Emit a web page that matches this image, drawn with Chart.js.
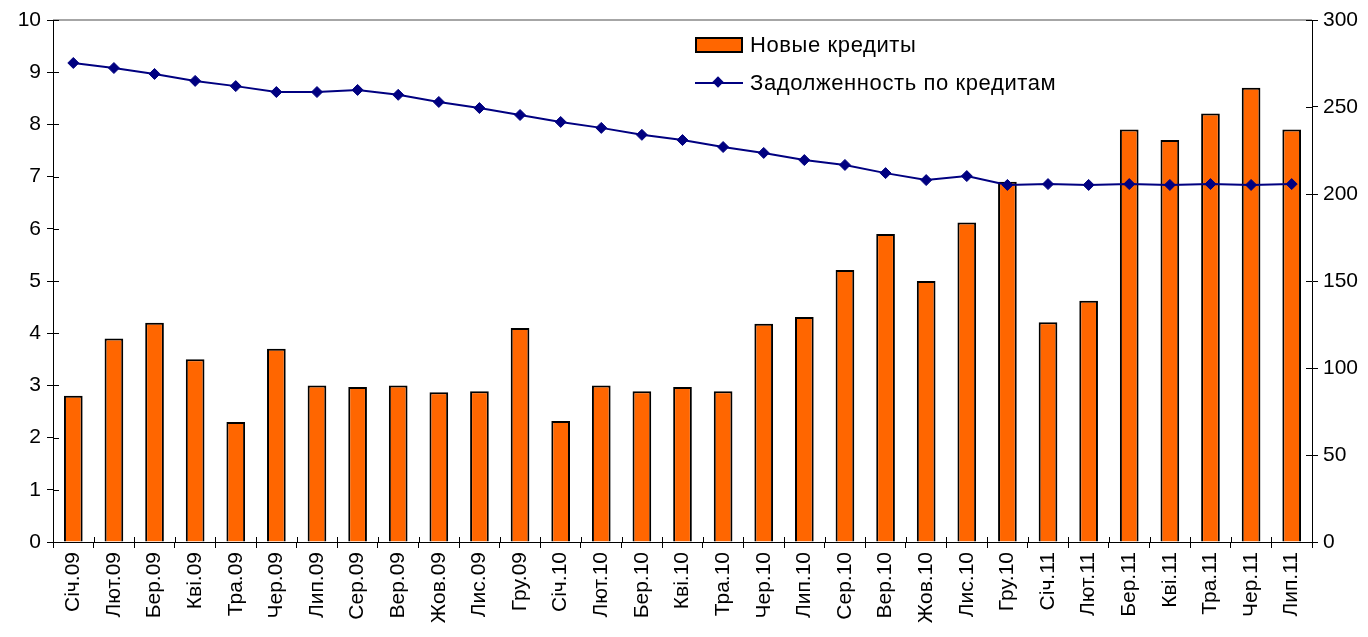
<!DOCTYPE html>
<html>
<head>
  <meta charset="utf-8">
  <title>Новые кредиты и задолженность</title>
  <script src="https://cdn.jsdelivr.net/npm/chart.js"></script>
  <style>
    body { margin: 0; background: #fff; }
    #wrap { position: relative; width: 1368px; height: 637px; }
    #legend { position: absolute; left: 695px; top: 26px; font-family: 'Liberation Sans', Arial, sans-serif; font-size: 22px; letter-spacing: 0.6px; color: #000; }
    .row { display: flex; align-items: center; height: 38px; }
    .sym { width: 48px; height: 16px; margin-right: 7px; position: relative; box-sizing: border-box; }
  </style>
</head>
<body>
<div id="wrap">
  <canvas id="c"></canvas>
  <div id="legend"></div>
</div>
<script>
const months = ['Січ.09', 'Лют.09', 'Бер.09', 'Кві.09', 'Тра.09', 'Чер.09', 'Лип.09', 'Сер.09', 'Вер.09', 'Жов.09', 'Лис.09', 'Гру.09',
  'Січ.10', 'Лют.10', 'Бер.10', 'Кві.10', 'Тра.10', 'Чер.10', 'Лип.10', 'Сер.10', 'Вер.10', 'Жов.10', 'Лис.10', 'Гру.10',
  'Січ.11', 'Лют.11', 'Бер.11', 'Кві.11', 'Тра.11', 'Чер.11', 'Лип.11'];

// новые кредиты (левая ось)
const newLoans = [2.8, 3.9, 4.2, 3.5, 2.3, 3.7, 3.0, 2.97, 3.0, 2.87, 2.89, 4.1,
  2.32, 3.0, 2.89, 2.97, 2.89, 4.18, 4.31, 5.21, 5.9, 5.0, 6.12, 6.9,
  4.21, 4.62, 7.9, 7.7, 8.21, 8.7, 7.9];

// задолженность (правая ось)
const debt = [275.3, 272.4, 269, 265, 262, 258.6, 258.6, 259.8, 257, 252.9, 249.4, 245.4,
  241.4, 238, 234, 231, 227, 223.6, 219.5, 216.7, 212, 208, 210.3, 205.2,
  205.7, 205.2, 205.7, 205.2, 205.7, 205.2, 205.7];

const leftTicks = { min: 0, max: 10, step: 1 };
const rightTicks = { min: 0, max: 300, step: 50 };

const FONT = { family: "'Liberation Sans', Arial, sans-serif", size: 21 };
const BAR_COLOR = '#FF6600';
const LINE_COLOR = '#000080';

// засечки, пересекающие оси, и верхняя рамка
const crossTicks = {
  id: 'crossTicks',
  afterDraw(chart) {
    const ctx = chart.ctx;
    const a = chart.chartArea;
    const x = chart.scales.x, y = chart.scales.y, y1 = chart.scales.y1;
    ctx.save();
    ctx.strokeStyle = '#888';
    ctx.lineWidth = 1.5;
    ctx.beginPath();
    ctx.moveTo(a.left, a.top);
    ctx.lineTo(a.right, a.top);
    ctx.stroke();
    ctx.strokeStyle = '#000';
    ctx.lineWidth = 1;
    ctx.beginPath();
    const n = months.length;
    for (let i = 0; i <= n; i++) {
      let px;
      if (i === 0) px = a.left;
      else if (i === n) px = a.right;
      else px = (x.getPixelForValue(i - 1) + x.getPixelForValue(i)) / 2;
      px = Math.round(px) + 0.5;
      ctx.moveTo(px, a.bottom);
      ctx.lineTo(px, a.bottom - 5);
    }
    y.ticks.forEach(t => {
      const py = Math.round(y.getPixelForValue(t.value)) + 0.5;
      ctx.moveTo(a.left, py);
      ctx.lineTo(a.left + 6, py);
    });
    y1.ticks.forEach(t => {
      const py = Math.round(y1.getPixelForValue(t.value)) + 0.5;
      ctx.moveTo(a.right, py);
      ctx.lineTo(a.right - 6, py);
    });
    ctx.stroke();
    ctx.restore();
  }
};

const axisGrid = { drawOnChartArea: false, drawTicks: true, tickLength: 6, color: '#000' };

const chart = new Chart(document.getElementById('c'), {
  data: {
    labels: months,
    datasets: [
      {
        type: 'bar',
        label: 'Новые кредиты',
        data: newLoans,
        yAxisID: 'y',
        backgroundColor: BAR_COLOR,
        borderColor: '#000',
        borderWidth: 2,
        categoryPercentage: 1,
        barPercentage: 0.46,
        order: 1
      },
      {
        type: 'line',
        label: 'Задолженность по кредитам',
        data: debt,
        yAxisID: 'y1',
        borderColor: LINE_COLOR,
        backgroundColor: LINE_COLOR,
        borderWidth: 2,
        pointStyle: 'rectRot',
        pointRadius: 5.5,
        pointBorderWidth: 1,
        tension: 0,
        order: 0
      }
    ]
  },
  options: {
    responsive: true,
    maintainAspectRatio: false,
    animation: false,
    layout: { padding: { top: 20, left: 0, right: 0, bottom: 0 } },
    plugins: {
      legend: { display: false },
      tooltip: { enabled: false }
    },
    scales: {
      x: {
        grid: { ...axisGrid, offset: true },
        border: { color: '#000', width: 1 },
        ticks: { color: '#000', font: FONT, minRotation: 90, maxRotation: 90, autoSkip: false, padding: 4 },
        afterFit: s => { s.height = 95; }
      },
      y: {
        position: 'left',
        min: leftTicks.min,
        max: leftTicks.max,
        grid: axisGrid,
        border: { color: '#000', width: 1 },
        ticks: { color: '#000', font: FONT, stepSize: leftTicks.step, padding: 6 },
        afterFit: s => { s.width = 53; }
      },
      y1: {
        position: 'right',
        min: rightTicks.min,
        max: rightTicks.max,
        grid: axisGrid,
        border: { color: '#000', width: 1 },
        ticks: { color: '#000', font: FONT, stepSize: rightTicks.step, padding: 5 },
        afterFit: s => { s.width = 56; }
      }
    }
  },
  plugins: [crossTicks]
});

// легенда как обычный текст
const legend = document.getElementById('legend');
chart.data.datasets.forEach(ds => {
  const row = document.createElement('div');
  row.className = 'row';
  const sym = document.createElement('div');
  sym.className = 'sym';
  if (ds.type === 'bar') {
    sym.style.background = ds.backgroundColor;
    sym.style.border = '2px solid #000';
  } else {
    sym.innerHTML = '<div style="position:absolute;left:0;right:0;top:7px;height:2px;background:' + ds.borderColor + '"></div>' +
      '<div style="position:absolute;left:19px;top:3px;width:8px;height:8px;background:' + ds.borderColor + ';transform:rotate(45deg)"></div>';
  }
  const txt = document.createElement('span');
  txt.textContent = ds.label;
  row.appendChild(sym);
  row.appendChild(txt);
  legend.appendChild(row);
});
</script>
</body>
</html>
